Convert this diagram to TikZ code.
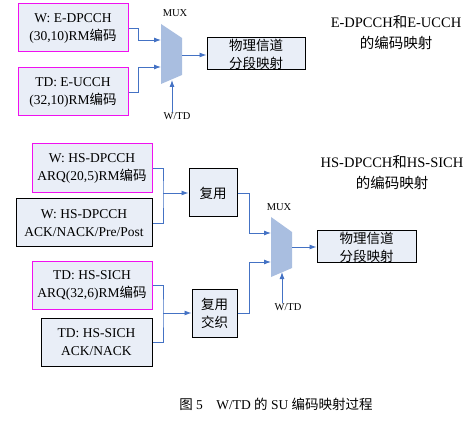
\documentclass[tikz,border=0pt]{standalone}
\usepackage{fontspec}
\setmainfont{Liberation Serif}
\newfontfamily\cjk{Noto Sans CJK SC}
\usepackage{tikz}
\usetikzlibrary{arrows.meta}

\definecolor{boxfill}{HTML}{E9EEF7}
\definecolor{pinkline}{HTML}{F010F0}
\definecolor{wireblue}{HTML}{4472C4}
\definecolor{muxfill}{HTML}{A9BEE0}

\begin{document}
\begin{tikzpicture}[x=1pt,y=-1pt,
		box_style/.style={rectangle,draw=black,line width=1pt,fill=boxfill,align=center,
			inner sep=0pt,font=\fontsize{13.5}{18}\selectfont},
		box_style1/.style={box_style,draw=pinkline},
		mux_style/.style={fill=muxfill,draw=none},
		edge_style/.style={draw=wireblue,line width=0.9pt},
		arrow_style/.style={edge_style,-{Latex[length=7pt,width=5pt]}},
		label_style/.style={font=\fontsize{10.5}{12}\selectfont,inner sep=0pt},
		title_style/.style={align=center,font=\fontsize{14.5}{21}\selectfont}]

		\useasboundingbox (0,0) rectangle (474,422);

		% upper part
		\node[box_style1,minimum width=110pt,minimum height=48pt] (n1) at (73,28)
			{W: E-DPCCH\\(30,10)RM{\cjk 编码}};
		\node[box_style1,minimum width=110pt,minimum height=48pt] (n2) at (73,92)
			{TD: E-UCCH\\(32,10)RM{\cjk 编码}};
		\node[box_style,minimum width=98pt,minimum height=32pt] (n3) at (256,54)
			{{\cjk 物理信道}\\{\cjk 分段映射}};
		\node[title_style] (t1) at (396,33) {E-DPCCH{\cjk 和}E-UCCH\\{\cjk 的编码映射}};

		\fill[mux_style] (161,24) -- (182,38) -- (182,75) -- (161,84) -- cycle;
		\coordinate (m1a) at (161,40);
		\coordinate (m1b) at (161,67);
		\coordinate (m1o) at (182,55);
		\coordinate (m1s) at (172,80);
		\node[label_style] (mux1) at (175,13) {MUX};
		\node[label_style] (sel1) at (177,116) {W/TD};

		\coordinate (j1) at (138,40);
		\coordinate (j2) at (138,67);
		\draw[edge_style] (n1.east |- 0,28) -| (j1);
		\draw[arrow_style] (j1) -- (m1a);
		\draw[edge_style] (n2.east |- 0,92) -| (j2);
		\draw[arrow_style] (j2) -- (m1b);
		\draw[arrow_style] (m1o) -- (n3.west |- m1o);
		\draw[arrow_style] (sel1.north -| m1s) -- (m1s);

		% lower part
		\node[box_style1,minimum width=120pt,minimum height=49pt] (n4) at (92,168.5)
			{W: HS-DPCCH\\ARQ(20,5)RM{\cjk 编码}};
		\node[box_style,minimum width=136pt,minimum height=48pt] (n5) at (84,223)
			{W: HS-DPCCH\\ACK/NACK/Pre/Post};
		\node[box_style,minimum width=48pt,minimum height=48pt] (n6) at (213,193)
			{\cjk 复用};
		\node[box_style1,minimum width=120pt,minimum height=47pt] (n7) at (92,285.5)
			{TD: HS-SICH\\ARQ(32,6)RM{\cjk 编码}};
		\node[box_style,minimum width=111pt,minimum height=48pt] (n8) at (96.5,342)
			{TD: HS-SICH\\ACK/NACK};
		\node[box_style,minimum width=45pt,minimum height=48pt] (n9) at (214.5,313)
			{{\cjk 复用}\\{\cjk 交织}};
		\node[box_style,minimum width=99pt,minimum height=32pt] (n10) at (366.5,247)
			{{\cjk 物理信道}\\{\cjk 分段映射}};
		\node[title_style] (t2) at (392,173) {HS-DPCCH{\cjk 和}HS-SICH\\{\cjk 的编码映射}};

		\fill[mux_style] (271,217) -- (292,232) -- (292,268) -- (271,277) -- cycle;
		\coordinate (m2a) at (271,233);
		\coordinate (m2b) at (271,262);
		\coordinate (m2o) at (292,247);
		\coordinate (m2s) at (282,272);
		\node[label_style] (mux2) at (279,207) {MUX};
		\node[label_style] (sel2) at (288,307) {W/TD};

		\coordinate (j3) at (163,193);
		\coordinate (j4) at (163,313);
		\coordinate (j5) at (249,233);
		\coordinate (j6) at (249,262);
		\draw[edge_style] (n4.east) -| (j3) |- (n5.east);
		\draw[arrow_style] (j3) -- (n6.west);
		\draw[edge_style] (n7.east) -| (j4) |- (n8.east);
		\draw[arrow_style] (j4) -- (n9.west);
		\draw[edge_style] (n6.east) -| (j5);
		\draw[arrow_style] (j5) -- (m2a);
		\draw[edge_style] (n9.east) -| (j6);
		\draw[arrow_style] (j6) -- (m2b);
		\draw[arrow_style] (m2o) -- (n10.west);
		\draw[arrow_style] (sel2.north -| m2s) -- (m2s);

		% caption
		\node[font=\fontsize{13.5}{15}\selectfont] (cap) at (276,404)
			{{\cjk 图} 5\quad W/TD {\cjk 的} SU {\cjk 编码映射过程}};

		\end{tikzpicture}
\end{document}
